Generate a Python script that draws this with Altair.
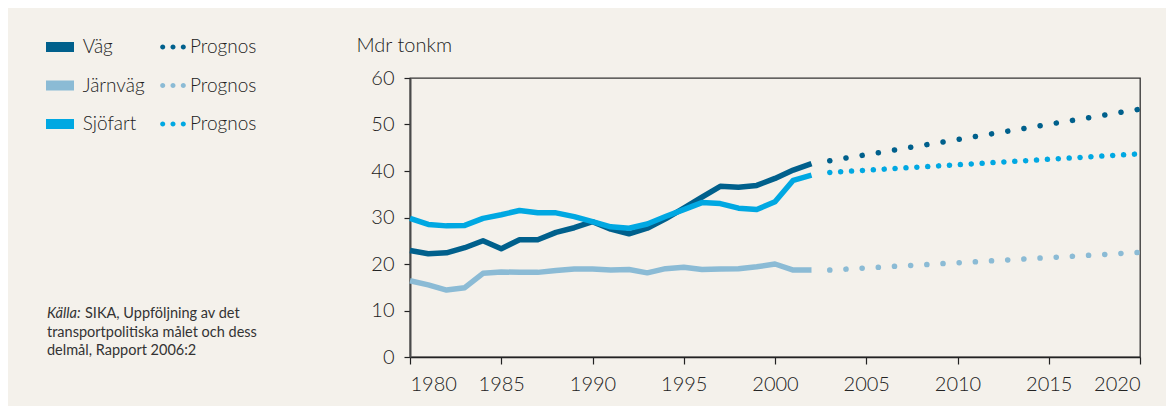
import math
import altair as alt
import pandas as pd

# ---------------- data ----------------
years = list(range(1980, 2003))
vag = [22.9, 22.2, 22.4, 23.5, 25.0, 23.3, 25.2, 25.2, 26.8, 27.8, 29.1, 27.5,
       26.5, 27.7, 29.7, 32.0, 34.4, 36.7, 36.5, 36.9, 38.4, 40.2, 41.6]
jarnvag = [16.4, 15.5, 14.4, 14.9, 18.0, 18.3, 18.2, 18.2, 18.6, 18.9, 18.9, 18.7,
           18.8, 18.1, 19.0, 19.3, 18.8, 18.9, 19.0, 19.4, 20.0, 18.7, 18.7]
sjofart = [29.8, 28.5, 28.2, 28.3, 29.8, 30.6, 31.5, 31.0, 31.0, 30.2, 29.1, 28.0,
           27.7, 28.6, 30.2, 31.7, 33.2, 33.0, 32.0, 31.7, 33.4, 38.0, 39.1]

prog_years = [2003, 2020]
vag_prog = [42.2, 53.3]
jarnvag_prog = [18.7, 22.5]
sjofart_prog = [39.7, 43.7]

series = ["Väg", "Järnväg", "Sjöfart"]
prog_series = ["Väg prognos", "Järnväg prognos", "Sjöfart prognos"]
colors = ["#00608c", "#8bbbd5", "#00a8e2"]
dash_patterns = [[0.1, 16.3], [0.1, 16.1], [0.1, 10.8]]

x_ticks = list(range(1980, 2021, 5))
y_ticks = list(range(0, 61, 10))

source_line1_a = "Källa:"
source_line1_b = "SIKA, Uppföljning av det"
source_lines = ["transportpolitiska målet och dess", "delmål, Rapport 2006:2"]

FONT = "Lato"
FW = 300
BG = "#f4f1eb"

# ---------------- tables ----------------
hist_tables = [
    pd.DataFrame({"year": years, "value": vals})
    for vals in (vag, jarnvag, sjofart)
]
prog_tables = [
    pd.DataFrame({"year": prog_years, "value": vals})
    for vals in (vag_prog, jarnvag_prog, sjofart_prog)
]
legend1_rows = pd.DataFrame({"year": [None] * 3, "value": [None] * 3, "serie": series})
legend2_rows = pd.DataFrame({"year": [None] * 3, "value": [None] * 3, "serie": prog_series})

x_enc = alt.X("year:Q",
              scale=alt.Scale(domain=[1980, 2020], nice=False, zero=False),
              axis=alt.Axis(values=x_ticks, format="d", title=None, grid=False,
                            labelFont=FONT, labelFontSize=20, labelFontWeight=FW,
                            labelColor="#222",
                            labelPadding=10, tickSize=7, tickColor="#222",
                            domainColor="#222", domainWidth=1.5, tickWidth=1.2))
y_enc = alt.Y("value:Q",
              scale=alt.Scale(domain=[0, 60], nice=False),
              axis=alt.Axis(values=y_ticks, title="Mdr tonkm", grid=False,
                            titleAngle=0, titleX=-54, titleY=-33,
                            titleAlign="left", titleBaseline="middle",
                            titleFont=FONT, titleFontSize=20, titleFontWeight=FW,
                            titleColor="#222",
                            labelFont=FONT, labelFontSize=20, labelFontWeight=FW,
                            labelColor="#222",
                            labelPadding=10, tickSize=6, tickColor="#222",
                            domainColor="#4a4a4a", domainWidth=2, tickWidth=1.2))

hist_layers = []
for i, (tbl, col) in enumerate(zip(hist_tables, colors)):
    hist_layers.append(
        alt.Chart(tbl).mark_line(strokeJoin="round").encode(
            x=x_enc if i == 0 else "year:Q",
            y=y_enc if i == 0 else "value:Q",
            stroke=alt.value(col),
            strokeWidth=alt.value(5.5),
        )
    )

prog_layers = [
    alt.Chart(tbl).mark_line(strokeCap="round", strokeDash=dash).encode(
        x="year:Q", y="value:Q",
        stroke=alt.value(col),
        strokeWidth=alt.value(5.5),
    )
    for tbl, col, dash in zip(prog_tables, colors, dash_patterns)
]

# legend symbols (unit coordinates of custom symbol paths)
bar_path = "M-1,-0.357H1V0.357H-1Z"
c = 0.936
r = 0.23
parts = []
for cx in (-c, 0, c):
    pts = [(cx + r * math.cos(2 * math.pi * k / 16), r * math.sin(2 * math.pi * k / 16))
           for k in range(16)]
    parts.append("M" + "L".join(f"{px:.3f},{py:.3f}" for px, py in pts) + "Z")
dots_path = " ".join(parts)

legend1_layer = alt.Chart(legend1_rows).mark_point(filled=True, strokeWidth=0).encode(
    x="year:Q", y="value:Q",
    color=alt.Color("serie:N", sort=series,
                    scale=alt.Scale(domain=series, range=colors),
                    legend=alt.Legend(title=None, orient="none", legendX=-364, legendY=-45,
                                      direction="vertical", symbolType=bar_path,
                                      symbolSize=784, symbolStrokeWidth=0,
                                      symbolOpacity=1,
                                      labelFont=FONT, labelFontSize=19, labelFontWeight=FW,
                                      labelColor="#222",
                                      labelOffset=8.7, rowPadding=14.5, padding=0)),
)

legend2_layer = alt.Chart(legend2_rows).mark_point(filled=True, strokeWidth=0).encode(
    x="year:Q", y="value:Q",
    fill=alt.Fill("serie:N", sort=prog_series,
                  scale=alt.Scale(domain=prog_series, range=colors),
                  legend=alt.Legend(title=None, orient="none", legendX=-248, legendY=-42,
                                    direction="vertical", symbolType=dots_path,
                                    symbolSize=484, symbolStrokeWidth=0,
                                    symbolOpacity=1,
                                    labelExpr="'Prognos'",
                                    labelFont=FONT, labelFontSize=19, labelFontWeight=FW,
                                    labelColor="#222",
                                    labelOffset=6, rowPadding=17.5, padding=0)),
)

one = pd.DataFrame({"k": [0]})
src1 = alt.Chart(one).mark_text(text=source_line1_a, font=FONT, fontSize=14.5,
                                fontStyle="italic", color="#333", align="left",
                                baseline="alphabetic").encode(
    x=alt.value(-363), y=alt.value(240))
src2 = alt.Chart(one).mark_text(text=source_line1_b, font=FONT, fontSize=14.5,
                                color="#333", align="left",
                                baseline="alphabetic").encode(
    x=alt.value(-325), y=alt.value(240))
src3 = alt.Chart(one).mark_text(text=source_lines, font=FONT, fontSize=14.5,
                                color="#333", align="left", lineHeight=18.5,
                                baseline="alphabetic").encode(
    x=alt.value(-363), y=alt.value(258.5))

chart = alt.layer(*hist_layers, *prog_layers, legend1_layer, legend2_layer,
                  src1, src2, src3).properties(
    width=730, height=279,
    autosize=alt.AutoSizeParams(type="none"),
    padding={"left": 402, "top": 70, "right": 26, "bottom": 49},
    background=BG,
).configure_view(stroke="#333", strokeWidth=1.3)

chart.save("out.html", embed_options={"renderer": "svg", "actions": False})
